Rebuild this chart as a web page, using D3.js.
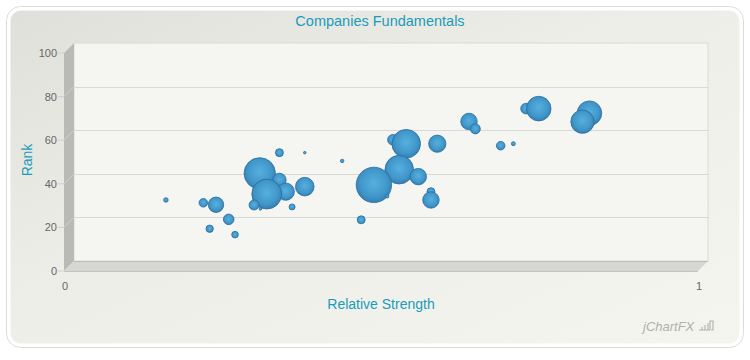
<!DOCTYPE html>
<html>
<head>
<meta charset="utf-8">
<script src="https://cdn.jsdelivr.net/npm/d3@7"></script>
<style>
  body { margin: 0; background: #ffffff; }
  svg { display: block; }
</style>
</head>
<body>
<script>
// relative strength (x), rank (y), bubble size
var strength = [0.145, 0.204, 0.224, 0.244, 0.214, 0.254, 0.324, 0.364, 0.293, 0.324,
                0.304, 0.334, 0.364, 0.284, 0.294, 0.344, 0.423, 0.453, 0.473, 0.494,
                0.503, 0.524, 0.513, 0.543, 0.563, 0.563, 0.573, 0.623, 0.633, 0.673,
                0.693, 0.713, 0.733, 0.813, 0.802];
var rank = [28.0, 26.7, 25.8, 19.1, 14.8, 12.1, 49.7, 49.7, 40.2, 37.2,
            30.7, 31.8, 34.1, 25.7, 23.9, 24.8, 45.9, 18.9, 34.9, 29.7,
            55.6, 53.8, 41.9, 38.7, 31.8, 28.0, 53.8, 64.0, 60.6, 52.9,
            53.8, 69.9, 69.9, 67.8, 63.9];
var size = [1.6, 5.7, 18.3, 8.7, 4.2, 3.4, 4.9, 0.5, 76, 13.9,
            69, 23, 26.7, 7.7, 0.5, 2.8, 0.9, 4.9, 96.7, 0.9,
            8.7, 63, 63, 21, 4.9, 21, 23, 21, 7.7, 5.7,
            1.2, 8.7, 46.7, 46.7, 42];
var yTicks = [0, 20, 40, 60, 80, 100];
var xTicks = [0, 1];

var W = 750, H = 360;
var font = "'Liberation Sans', Arial, sans-serif";
var accent = '#1a9bb9';

// back wall and 3d depth offset
var wall = {left: 74, right: 708, top: 43, bottom: 261};
var depth_x = -10, depth_y = 10;

var x = d3.scaleLinear().domain([0, 1]).range([wall.left, wall.right]);
var y = d3.scaleLinear().domain([0, 100]).range([wall.bottom, wall.top]);
var r = d3.scaleSqrt().domain([0, 100]).range([0, 18]);

var svg = d3.select('body').append('svg')
  .attr('width', W)
  .attr('height', H);

var defs = svg.append('defs');

var bg = defs.append('linearGradient')
  .attr('id', 'card-bg')
  .attr('x1', '0%').attr('y1', '0%')
  .attr('x2', '100%').attr('y2', '100%');
bg.append('stop').attr('offset', '0%').attr('stop-color', '#e0e0db');
bg.append('stop').attr('offset', '45%').attr('stop-color', '#eeeee9');
bg.append('stop').attr('offset', '100%').attr('stop-color', '#f5f5f0');

var ball = defs.append('radialGradient')
  .attr('id', 'ball')
  .attr('cx', '50%').attr('cy', '45%').attr('r', '55%');
ball.append('stop').attr('offset', '0%').attr('stop-color', '#55b0df');
ball.append('stop').attr('offset', '70%').attr('stop-color', '#4196ca');
ball.append('stop').attr('offset', '100%').attr('stop-color', '#347fb2');

// card
svg.append('rect')
  .attr('x', 6.5).attr('y', 6.5)
  .attr('width', 737).attr('height', 341)
  .attr('rx', 14)
  .style('fill', 'none')
  .style('stroke', '#dcdcdc')
  .style('stroke-width', 1);

svg.append('rect')
  .attr('x', 9).attr('y', 9)
  .attr('width', 732).attr('height', 336)
  .attr('rx', 12)
  .style('fill', 'url(#card-bg)')
  .style('stroke', '#ffffff')
  .style('stroke-width', 3);

// title
svg.append('text')
  .attr('x', 380).attr('y', 26)
  .attr('font-family', font)
  .attr('font-size', '14.5px')
  .attr('fill', accent)
  .style('text-anchor', 'middle')
  .text('Companies Fundamentals');

// back wall
svg.append('rect')
  .attr('x', wall.left).attr('y', wall.top)
  .attr('width', wall.right - wall.left)
  .attr('height', wall.bottom - wall.top)
  .style('fill', '#f5f5f1')
  .style('stroke', '#dadad6')
  .style('stroke-width', 1);

svg.selectAll('line.grid')
  .data(yTicks.filter(function(d) { return d > 0 && d < 100; }))
  .enter()
  .append('line')
  .attr('class', 'grid')
  .attr('x1', wall.left).attr('x2', wall.right)
  .attr('y1', function(d) { return Math.round(y(d)) + 0.5; })
  .attr('y2', function(d) { return Math.round(y(d)) + 0.5; })
  .style('stroke', '#d9d9d5')
  .style('stroke-width', 1);

// left side wall
svg.append('polygon')
  .attr('points', [
    [wall.left, wall.top],
    [wall.left, wall.bottom],
    [wall.left + depth_x, wall.bottom + depth_y],
    [wall.left + depth_x, wall.top + depth_y]
  ].join(' '))
  .style('fill', '#b9b9b6');

svg.selectAll('line.side')
  .data(yTicks)
  .enter()
  .append('line')
  .attr('class', 'side')
  .attr('x1', wall.left).attr('y1', function(d) { return y(d); })
  .attr('x2', wall.left + depth_x).attr('y2', function(d) { return y(d) + depth_y; })
  .style('stroke', '#d2d2ce')
  .style('stroke-width', 1);

// floor
svg.append('polygon')
  .attr('points', [
    [wall.left, wall.bottom],
    [wall.right, wall.bottom],
    [wall.right + depth_x, wall.bottom + depth_y],
    [wall.left + depth_x, wall.bottom + depth_y]
  ].join(' '))
  .style('fill', '#d6d6d2');

svg.append('line')
  .attr('x1', wall.left).attr('x2', wall.right)
  .attr('y1', wall.bottom + 0.5).attr('y2', wall.bottom + 0.5)
  .style('stroke', '#bdbdb9');

svg.append('line')
  .attr('x1', wall.left + depth_x).attr('x2', wall.right + depth_x)
  .attr('y1', wall.bottom + depth_y + 0.5).attr('y2', wall.bottom + depth_y + 0.5)
  .style('stroke', '#c4c4c0');

// y axis ticks and labels (front edge)
svg.selectAll('line.ytick')
  .data(yTicks)
  .enter()
  .append('line')
  .attr('class', 'ytick')
  .attr('x1', wall.left + depth_x - 6).attr('x2', wall.left + depth_x)
  .attr('y1', function(d) { return y(d) + depth_y; })
  .attr('y2', function(d) { return y(d) + depth_y; })
  .style('stroke', '#cfcfcb');

svg.selectAll('text.ylabel')
  .data(yTicks)
  .enter()
  .append('text')
  .attr('class', 'ylabel')
  .attr('x', wall.left + depth_x - 7)
  .attr('y', function(d) { return y(d) + depth_y + 4; })
  .attr('font-family', font)
  .attr('font-size', '11px')
  .attr('fill', '#666666')
  .style('text-anchor', 'end')
  .text(function(d) { return d; });

svg.selectAll('text.xlabel')
  .data(xTicks)
  .enter()
  .append('text')
  .attr('class', 'xlabel')
  .attr('x', function(d) { return x(d) + depth_x + 1; })
  .attr('y', wall.bottom + depth_y + 19)
  .attr('font-family', font)
  .attr('font-size', '11px')
  .attr('fill', '#666666')
  .style('text-anchor', 'middle')
  .text(function(d) { return d; });

// axis titles
svg.append('text')
  .attr('transform', 'translate(32,160) rotate(-90)')
  .attr('font-family', font)
  .attr('font-size', '14px')
  .attr('fill', accent)
  .style('text-anchor', 'middle')
  .text('Rank');

svg.append('text')
  .attr('x', 381).attr('y', 309)
  .attr('font-family', font)
  .attr('font-size', '14px')
  .attr('fill', accent)
  .style('text-anchor', 'middle')
  .text('Relative Strength');

// bubbles, higher rank drawn first so lower ones sit in front
var order = d3.range(strength.length).sort(function(a, b) { return rank[b] - rank[a]; });

svg.append('g')
  .attr('class', 'bubbles')
  .selectAll('circle')
  .data(order)
  .enter()
  .append('circle')
  .attr('cx', function(i) { return x(strength[i]); })
  .attr('cy', function(i) { return y(rank[i]); })
  .attr('r', function(i) { return r(size[i]); })
  .style('fill', 'url(#ball)')
  .style('stroke', '#2b6f9d')
  .style('stroke-width', 0.8);

// watermark
var logo = svg.append('g').attr('transform', 'translate(643,331)');
logo.append('text')
  .attr('x', 0).attr('y', 0)
  .attr('font-family', font)
  .attr('font-size', '13px')
  .attr('font-style', 'italic')
  .attr('fill', '#b0b0ac')
  .text('jChartFX');
logo.append('path')
  .attr('d', 'M56,-1 H67 M59,-1 V-4 M62,-1 V-6 M65,-1 V-8 M67,-1 V-10 H70 V-1 H68')
  .style('fill', 'none')
  .style('stroke', '#b0b0ac')
  .style('stroke-width', 1.1);
</script>
</body>
</html>
